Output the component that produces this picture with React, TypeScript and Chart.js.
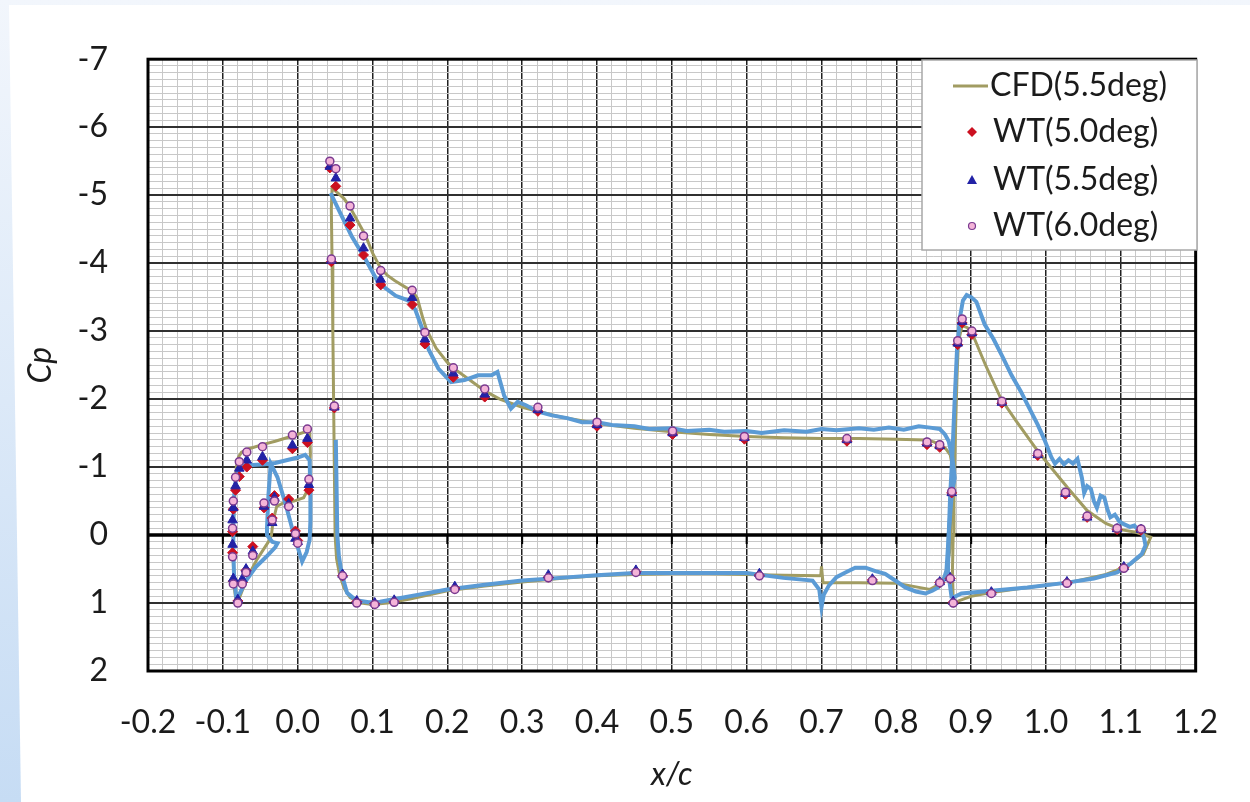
import React, { useEffect, useRef } from 'react';
import { Chart, registerables } from 'chart.js';

Chart.register(...registerables);

// ---------- axis / legend text ----------
const xMajorTicks = [-0.2, -0.1, 0.0, 0.1, 0.2, 0.3, 0.4, 0.5, 0.6, 0.7, 0.8, 0.9, 1.0, 1.1, 1.2];
const xTickLabels = ['-0.2', '-0.1', '0.0', '0.1', '0.2', '0.3', '0.4', '0.5', '0.6', '0.7', '0.8', '0.9', '1.0', '1.1', '1.2'];
const yMajorTicks = [-7, -6, -5, -4, -3, -2, -1, 0, 1, 2];
const yTickLabels = ['-7', '-6', '-5', '-4', '-3', '-2', '-1', '0', '1', '2'];
const seriesNames = ['CFD(5.5deg)', 'WT(5.0deg)', 'WT(5.5deg)', 'WT(6.0deg)'];
const xTitle = 'x/c';
const yTitle = 'Cp';

// ---------- CFD (5.5 deg) contours ----------
const cfdSlatX = [0.016, 0.011, -0.009, -0.030, -0.047, -0.065, -0.075, -0.079, -0.082, -0.084, -0.086, -0.086, -0.085, -0.083, -0.080, -0.077, -0.072, -0.065, -0.055, -0.045, -0.038, -0.035, -0.033, -0.028, -0.018, -0.005, 0.008, 0.015, 0.017, 0.016];
const cfdSlatCp = [-1.57, -1.52, -1.45, -1.38, -1.33, -1.27, -1.22, -1.15, -1.00, -0.60, -0.10, 0.40, 0.75, 0.92, 1.00, 0.90, 0.76, 0.58, 0.37, 0.20, 0.08, 0.00, -0.20, -0.42, -0.48, -0.50, -0.55, -0.70, -1.20, -1.57];

const cfdMainX = [0.876, 0.872, 0.866, 0.858, 0.850, 0.840, 0.800, 0.750, 0.700, 0.650, 0.600, 0.550, 0.500, 0.450, 0.400, 0.350, 0.300, 0.270, 0.250, 0.230, 0.210, 0.200, 0.185, 0.172, 0.167, 0.160, 0.153, 0.145, 0.130, 0.120, 0.111, 0.100, 0.091, 0.080, 0.070, 0.062, 0.055, 0.046, 0.045, 0.046, 0.047, 0.048, 0.049, 0.050, 0.052, 0.056, 0.062, 0.070, 0.085, 0.100, 0.120, 0.150, 0.200, 0.250, 0.300, 0.350, 0.400, 0.450, 0.500, 0.550, 0.600, 0.650, 0.699, 0.700, 0.702, 0.750, 0.800, 0.830, 0.845, 0.858, 0.866, 0.872, 0.875, 0.876];
const cfdMainCp = [-0.94, -1.18, -1.27, -1.33, -1.37, -1.40, -1.41, -1.42, -1.42, -1.43, -1.45, -1.48, -1.52, -1.57, -1.64, -1.74, -1.88, -2.00, -2.12, -2.28, -2.44, -2.54, -2.75, -3.03, -3.20, -3.48, -3.60, -3.64, -3.74, -3.82, -3.92, -4.15, -4.40, -4.62, -4.82, -4.95, -5.02, -5.10, -4.80, -4.00, -3.00, -2.00, -1.00, 0.00, 0.35, 0.58, 0.78, 0.92, 1.00, 1.02, 1.00, 0.94, 0.82, 0.75, 0.69, 0.64, 0.60, 0.58, 0.57, 0.57, 0.58, 0.59, 0.60, 0.46, 0.70, 0.70, 0.71, 0.77, 0.80, 0.72, 0.58, 0.20, -0.50, -0.94];

const cfdFlapX = [0.876, 0.875, 0.876, 0.877, 0.879, 0.881, 0.883, 0.888, 0.895, 0.902, 0.920, 0.940, 0.960, 0.990, 1.010, 1.030, 1.055, 1.080, 1.100, 1.120, 1.140, 1.130, 1.110, 1.080, 1.030, 0.970, 0.930, 0.900, 0.885, 0.876];
const cfdFlapCp = [1.00, 0.50, 0.00, -0.60, -1.50, -2.30, -2.85, -3.08, -3.05, -2.95, -2.48, -2.00, -1.68, -1.22, -0.95, -0.68, -0.36, -0.17, -0.08, -0.04, 0.03, 0.28, 0.45, 0.58, 0.70, 0.78, 0.84, 0.90, 0.96, 1.00];

// ---------- unlabelled blue measured line ----------
const blueSlatX = [-0.082, -0.085, -0.086, -0.086, -0.085, -0.083, -0.079, -0.072, -0.060, -0.045, -0.030, -0.015, 0.000, 0.010, 0.016, 0.017, 0.017, 0.016, 0.012, 0.006, -0.005, -0.016, -0.027, -0.036, -0.039, -0.041, -0.041, -0.034, -0.027, -0.030, -0.042, -0.056, -0.069, -0.077, -0.082];
const blueSlatCp = [0.93, 0.60, 0.20, -0.20, -0.55, -0.80, -0.95, -1.02, -1.03, -1.04, -1.06, -1.10, -1.14, -1.18, -1.10, -0.60, -0.20, 0.07, 0.25, 0.39, 0.00, -0.45, -0.85, -1.05, -0.60, -0.10, 0.00, 0.10, 0.12, 0.18, 0.32, 0.47, 0.67, 0.85, 0.93];

// main element: from the leading edge along the lower surface, round the trailing edge, back along the upper surface
const blueMainX = [0.051, 0.052, 0.053, 0.055, 0.059, 0.066, 0.078, 0.095, 0.110, 0.130, 0.160, 0.200, 0.250, 0.300, 0.350, 0.400, 0.450, 0.500, 0.550, 0.600, 0.649, 0.688, 0.697, 0.700, 0.703, 0.710, 0.720, 0.732, 0.745, 0.759, 0.772, 0.785, 0.800, 0.812, 0.826, 0.839, 0.848, 0.856, 0.862, 0.867, 0.870, 0.874,
  0.878, 0.875, 0.870, 0.865, 0.858, 0.845, 0.830, 0.810, 0.790, 0.770, 0.750, 0.720, 0.700, 0.680, 0.650, 0.620, 0.600, 0.570, 0.550, 0.520, 0.500, 0.470, 0.450, 0.420, 0.400, 0.380, 0.360, 0.340, 0.320, 0.305, 0.294, 0.285, 0.276, 0.267, 0.259, 0.241, 0.223, 0.205, 0.188, 0.175, 0.166, 0.157, 0.148, 0.131, 0.108, 0.091, 0.072, 0.055, 0.044];
const blueMainCp = [-1.40, -0.70, 0.00, 0.30, 0.58, 0.85, 0.96, 0.99, 0.98, 0.94, 0.88, 0.80, 0.73, 0.67, 0.63, 0.59, 0.56, 0.56, 0.56, 0.56, 0.63, 0.67, 0.80, 1.06, 0.88, 0.74, 0.62, 0.55, 0.48, 0.48, 0.53, 0.57, 0.68, 0.77, 0.83, 0.86, 0.82, 0.77, 0.70, 0.52, 0.00, -0.60,
  -0.84, -1.13, -1.38, -1.48, -1.56, -1.58, -1.60, -1.55, -1.58, -1.55, -1.57, -1.54, -1.56, -1.52, -1.54, -1.50, -1.53, -1.52, -1.55, -1.53, -1.57, -1.56, -1.60, -1.62, -1.66, -1.66, -1.72, -1.76, -1.82, -1.91, -1.96, -1.86, -2.05, -2.40, -2.35, -2.35, -2.28, -2.25, -2.45, -2.73, -3.05, -3.32, -3.45, -3.52, -3.71, -4.05, -4.40, -4.78, -5.03];

const blueFlapX = [0.874, 0.869, 0.870, 0.872, 0.875, 0.878, 0.881, 0.885, 0.889, 0.894, 0.900, 0.907, 0.918, 0.930, 0.942, 0.954, 0.966, 0.978, 0.989, 0.998, 1.007, 1.012, 1.018, 1.024, 1.030, 1.036, 1.042, 1.045, 1.048, 1.051, 1.055, 1.060, 1.064, 1.068, 1.073, 1.078, 1.082, 1.086, 1.092, 1.098, 1.104, 1.112, 1.118, 1.122, 1.127, 1.131, 1.133, 1.128, 1.113, 1.095, 1.064, 1.028, 0.975, 0.927, 0.887, 0.874];
const blueFlapCp = [0.93, 0.52, 0.00, -0.60, -1.20, -2.00, -2.70, -3.20, -3.45, -3.53, -3.50, -3.43, -3.10, -2.88, -2.62, -2.35, -2.12, -1.86, -1.62, -1.40, -1.15, -1.05, -1.12, -1.04, -1.10, -1.05, -1.12, -0.98, -0.84, -0.62, -0.72, -0.68, -0.50, -0.40, -0.58, -0.55, -0.38, -0.26, -0.30, -0.20, -0.16, -0.12, -0.14, -0.09, -0.06, 0.04, 0.15, 0.28, 0.42, 0.55, 0.64, 0.70, 0.77, 0.82, 0.86, 0.93];

// ---------- wind-tunnel pressure taps ----------
const tapX = [
  -0.080, -0.086, -0.087, -0.087, -0.086, -0.083, -0.078, -0.068, -0.047, -0.007, 0.013,
  0.015, 0.000, -0.003, -0.012, -0.031, -0.034, -0.045, -0.060, -0.069, -0.074,
  0.043, 0.051, 0.070, 0.088, 0.111, 0.153, 0.170, 0.208, 0.250, 0.321, 0.400, 0.501, 0.597, 0.734, 0.841, 0.858,
  0.045, 0.049, 0.060, 0.079, 0.103, 0.129, 0.210, 0.335, 0.452, 0.617, 0.768, 0.858, 0.872,
  0.876, 0.874, 0.882, 0.888, 0.901, 0.941, 0.989, 1.026, 1.055, 1.095, 1.127, 0.927, 1.028, 1.104,
];
const wt50 = [
  0.97, 0.68, 0.26, -0.05, -0.38, -0.66, -0.86, -1.00, -1.10, -1.27, -1.36,
  -0.66, 0.08, -0.06, -0.53, -0.58, -0.25, -0.40, 0.17, 0.52, 0.70,
  -5.40, -5.13, -4.56, -4.12, -3.68, -3.39, -2.81, -2.32, -2.03, -1.82, -1.60, -1.48, -1.41, -1.38, -1.33, -1.29,
  -4.02, -1.87, 0.60, 0.98, 1.01, 0.98, 0.78, 0.62, 0.54, 0.59, 0.66, 0.70, 0.64,
  0.99, -0.62, -2.80, -3.12, -2.95, -1.94, -1.17, -0.60, -0.26, -0.08, -0.07, 0.85, 0.70, 0.48,
];
const wt55 = [
  0.95, 0.64, 0.14, -0.22, -0.40, -0.72, -0.98, -1.10, -1.15, -1.32, -1.42,
  -0.74, 0.10, 0.05, -0.46, -0.55, -0.18, -0.42, 0.24, 0.50, 0.65,
  -5.42, -5.25, -4.66, -4.22, -3.76, -3.49, -2.88, -2.38, -2.07, -1.84, -1.62, -1.50, -1.43, -1.40, -1.35, -1.31,
  -4.04, -1.88, 0.58, 0.97, 1.00, 0.96, 0.76, 0.59, 0.52, 0.57, 0.65, 0.69, 0.63,
  0.98, -0.62, -2.82, -3.14, -2.97, -1.95, -1.18, -0.61, -0.26, -0.09, -0.08, 0.84, 0.69, 0.47,
];
const wt60 = [
  1.00, 0.72, 0.32, -0.10, -0.50, -0.85, -1.08, -1.22, -1.30, -1.47, -1.56,
  -0.82, 0.12, -0.02, -0.42, -0.50, -0.22, -0.47, 0.30, 0.55, 0.72,
  -5.50, -5.39, -4.84, -4.40, -3.89, -3.60, -2.98, -2.46, -2.15, -1.88, -1.66, -1.53, -1.45, -1.42, -1.37, -1.33,
  -4.06, -1.90, 0.60, 1.00, 1.02, 0.99, 0.80, 0.63, 0.55, 0.60, 0.67, 0.70, 0.64,
  1.00, -0.64, -2.86, -3.18, -3.00, -1.97, -1.20, -0.63, -0.28, -0.10, -0.09, 0.86, 0.71, 0.49,
];

// ---------- styles ----------
const FONT = 'Lato, "Open Sans", sans-serif';
const TEXT = '#1b1b1b';
const OLIVE = '#a19c62';
const BLUE = '#5b9bd5';
const RED = '#cc1020';
const NAVY = '#2222a6';
const PINK = '#f4b4d8';
const PURPLE = '#7a3a90';

const pts = (xs: number[], ys: number[]) => xs.map((x, i) => ({ x, y: ys[i] }));
const near = (a: number, b: number) => Math.abs(a - b) < 1e-6;

const lineSet = (label: string, xs: number[], ys: number[], color: string, width: number, order: number) => ({
  label,
  data: pts(xs, ys),
  showLine: true,
  borderColor: color,
  backgroundColor: color,
  borderWidth: width,
  pointRadius: 0,
  pointHoverRadius: 0,
  tension: 0,
  fill: false,
  order,
});

const bgPlugin = {
  id: 'bg',
  beforeDraw(chart: any) {
    const { ctx, width, height } = chart;
    ctx.save();
    const g = ctx.createLinearGradient(0, 0, 0, height);
    g.addColorStop(0, '#f2f6fc');
    g.addColorStop(1, '#c6dcf4');
    ctx.fillStyle = g;
    ctx.fillRect(0, 0, width, height);
    ctx.fillStyle = '#ffffff';
    ctx.beginPath();
    ctx.moveTo(9, 5);
    ctx.lineTo(width, 5);
    ctx.lineTo(width, height);
    ctx.lineTo(21, height);
    ctx.closePath();
    ctx.fill();
    ctx.restore();
  },
};

const framePlugin = {
  id: 'frame',
  beforeDatasetsDraw(chart: any) {
    const { ctx, chartArea: a, scales } = chart;
    const y0 = scales.y.getPixelForValue(0);
    ctx.save();
    ctx.strokeStyle = '#000';
    ctx.lineWidth = 3.5;
    ctx.beginPath();
    ctx.moveTo(a.left, y0);
    ctx.lineTo(a.right, y0);
    ctx.stroke();
    ctx.lineWidth = 2;
    ctx.beginPath();
    xMajorTicks.forEach((t) => {
      const px = scales.x.getPixelForValue(t);
      ctx.moveTo(px, y0);
      ctx.lineTo(px, y0 + 9);
    });
    ctx.stroke();
    ctx.lineWidth = 3;
    ctx.strokeRect(a.left, a.top, a.right - a.left, a.bottom - a.top);
    ctx.restore();
  },
};

const legendPlugin = {
  id: 'boxLegend',
  afterDraw(chart: any) {
    const { ctx } = chart;
    const L = 922, T = 60, W = 275, H = 190;
    ctx.save();
    ctx.fillStyle = '#ffffff';
    ctx.fillRect(L, T, W, H);
    ctx.strokeStyle = '#a8a8a8';
    ctx.lineWidth = 1.5;
    ctx.strokeRect(L, T, W, H);
    ctx.font = `32px ${FONT}`;
    ctx.fillStyle = TEXT;
    ctx.textBaseline = 'middle';
    ctx.textAlign = 'left';
    const rows = [86, 132, 180, 226];
    // CFD line
    ctx.strokeStyle = OLIVE;
    ctx.lineWidth = 3;
    ctx.beginPath();
    ctx.moveTo(953, rows[0]);
    ctx.lineTo(988, rows[0]);
    ctx.stroke();
    ctx.fillText(seriesNames[0], 990, rows[0]);
    // diamond
    ctx.fillStyle = RED;
    ctx.beginPath();
    ctx.moveTo(972, rows[1] - 5);
    ctx.lineTo(977, rows[1]);
    ctx.lineTo(972, rows[1] + 5);
    ctx.lineTo(967, rows[1]);
    ctx.closePath();
    ctx.fill();
    // triangle
    ctx.fillStyle = NAVY;
    ctx.beginPath();
    ctx.moveTo(972, rows[2] - 5);
    ctx.lineTo(977, rows[2] + 4);
    ctx.lineTo(967, rows[2] + 4);
    ctx.closePath();
    ctx.fill();
    // circle
    ctx.fillStyle = PINK;
    ctx.strokeStyle = PURPLE;
    ctx.lineWidth = 1.2;
    ctx.beginPath();
    ctx.arc(972, rows[3], 3.5, 0, Math.PI * 2);
    ctx.fill();
    ctx.stroke();
    ctx.fillStyle = TEXT;
    ctx.fillText(seriesNames[1], 993, rows[1]);
    ctx.fillText(seriesNames[2], 993, rows[2]);
    ctx.fillText(seriesNames[3], 993, rows[3]);
    ctx.restore();
  },
};

export default function App() {
  const ref = useRef<HTMLCanvasElement>(null);

  useEffect(() => {
    if (!ref.current) return;
    const chart = new Chart(ref.current, {
      type: 'scatter',
      data: {
        datasets: [
          {
            label: seriesNames[3],
            data: pts(tapX, wt60),
            pointStyle: 'circle',
            pointRadius: 4,
            backgroundColor: PINK,
            borderColor: PURPLE,
            borderWidth: 1.5,
            order: 1,
          },
          {
            label: seriesNames[2],
            data: pts(tapX, wt55),
            pointStyle: 'triangle',
            pointRadius: 5.5,
            backgroundColor: NAVY,
            borderColor: NAVY,
            borderWidth: 1,
            order: 2,
          },
          {
            label: seriesNames[1],
            data: pts(tapX, wt50),
            pointStyle: 'rectRot',
            pointRadius: 5,
            backgroundColor: RED,
            borderColor: RED,
            borderWidth: 1,
            order: 3,
          },
          lineSet('blue-slat', blueSlatX, blueSlatCp, BLUE, 4, 4),
          lineSet('blue-main', blueMainX, blueMainCp, BLUE, 4, 5),
          lineSet('blue-flap', blueFlapX, blueFlapCp, BLUE, 4, 6),
          lineSet(seriesNames[0], cfdSlatX, cfdSlatCp, OLIVE, 3, 7),
          lineSet(seriesNames[0], cfdMainX, cfdMainCp, OLIVE, 3, 8),
          lineSet(seriesNames[0], cfdFlapX, cfdFlapCp, OLIVE, 3, 9),
        ] as any,
      },
      options: {
        responsive: false,
        animation: false,
        devicePixelRatio: 1,
        events: [],
        layout: { padding: { left: 0, right: 48, top: 55, bottom: 0 } },
        plugins: { legend: { display: false }, tooltip: { enabled: false } },
        scales: {
          x: {
            type: 'linear',
            min: -0.2,
            max: 1.2,
            border: { display: false },
            grid: {
              drawTicks: false,
              color: (c: any) => (xMajorTicks.some((t) => near(t, c.tick.value)) ? '#202020' : '#c8c8c8'),
              lineWidth: (c: any) => (xMajorTicks.some((t) => near(t, c.tick.value)) ? 1.5 : 1),
            },
            ticks: {
              stepSize: 0.02,
              autoSkip: false,
              maxRotation: 0,
              minRotation: 0,
              padding: 32,
              color: TEXT,
              font: { family: FONT, size: 32 },
              callback: (v: any) => {
                const i = xMajorTicks.findIndex((t) => near(t, Number(v)));
                return i >= 0 ? xTickLabels[i] : '';
              },
            },
            title: {
              display: true,
              text: xTitle,
              color: TEXT,
              font: { family: FONT, size: 32, style: 'italic' },
              padding: { top: 0, bottom: 8 },
            },
            afterFit: (s: any) => {
              s.height = 131;
            },
          },
          y: {
            type: 'linear',
            min: -7,
            max: 2,
            reverse: true,
            border: { display: false },
            grid: {
              drawTicks: false,
              color: (c: any) => (yMajorTicks.some((t) => near(t, c.tick.value)) ? '#303030' : '#c8c8c8'),
              lineWidth: (c: any) => (yMajorTicks.some((t) => near(t, c.tick.value)) ? 2 : 1),
            },
            ticks: {
              stepSize: 0.1,
              autoSkip: false,
              padding: 40,
              color: TEXT,
              font: { family: FONT, size: 32 },
              callback: (v: any) => {
                const i = yMajorTicks.findIndex((t) => near(t, Number(v)));
                return i >= 0 ? yTickLabels[i] : '';
              },
            },
            title: {
              display: true,
              text: yTitle,
              color: TEXT,
              font: { family: FONT, size: 32, style: 'italic' },
              padding: { top: 21, bottom: 0 },
            },
            afterFit: (s: any) => {
              s.width = 148;
            },
          },
        },
      } as any,
      plugins: [bgPlugin, framePlugin, legendPlugin],
    });
    return () => chart.destroy();
  }, []);

  return (
    <div style={{ position: 'absolute', left: 0, top: 0, width: 1250, height: 802 }}>
      <canvas ref={ref} width={1250} height={802} style={{ display: 'block', width: 1250, height: 802 }} />
    </div>
  );
}
